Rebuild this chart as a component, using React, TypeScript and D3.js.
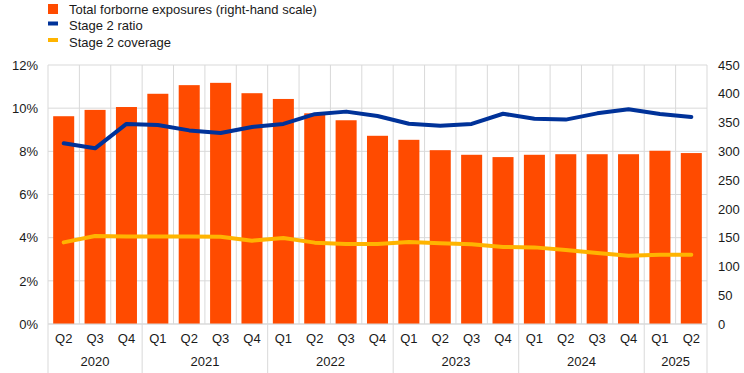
import React, { useEffect, useRef } from 'react';
import * as d3 from 'd3';

const quarters = ['Q2', 'Q3', 'Q4', 'Q1', 'Q2', 'Q3', 'Q4', 'Q1', 'Q2', 'Q3', 'Q4', 'Q1', 'Q2', 'Q3', 'Q4', 'Q1', 'Q2', 'Q3', 'Q4', 'Q1', 'Q2'];
const years = ['2020', '2020', '2020', '2021', '2021', '2021', '2021', '2022', '2022', '2022', '2022', '2023', '2023', '2023', '2023', '2024', '2024', '2024', '2024', '2025', '2025'];

// total forborne exposures (EUR bn, right-hand scale)
const forborne = [361, 372, 377, 400, 415, 419, 401, 391, 366, 354, 327, 320, 302, 294, 290, 294, 295, 295, 295, 301, 297];
// stage 2 ratio (%)
const stage2Ratio = [8.37, 8.14, 9.27, 9.22, 8.97, 8.85, 9.13, 9.27, 9.72, 9.84, 9.64, 9.28, 9.19, 9.27, 9.74, 9.51, 9.47, 9.76, 9.95, 9.73, 9.59];
// stage 2 coverage (%)
const stage2Coverage = [3.78, 4.08, 4.05, 4.05, 4.05, 4.04, 3.86, 3.98, 3.77, 3.71, 3.71, 3.8, 3.74, 3.69, 3.57, 3.55, 3.43, 3.29, 3.16, 3.21, 3.21];

const leftTicks = [0, 2, 4, 6, 8, 10, 12];
const rightTicks = [0, 50, 100, 150, 200, 250, 300, 350, 400, 450];

const ORANGE = '#ff4b00';
const BLUE = '#003299';
const YELLOW = '#ffb400';
const GRID = '#d9d9d9';
const FONT = 'Arial, "Liberation Sans", sans-serif';

const App = () => {
    const svgRef = useRef<SVGSVGElement>(null);

    useEffect(() => {
        document.body.style.margin = '0';
        drawChart();
    }, []);

    const drawChart = () => {
        const W = 744;
        const H = 373;
        const margin = { top: 65, right: 37, bottom: 49, left: 48 };
        const width = W - margin.left - margin.right;
        const height = H - margin.top - margin.bottom;

        const root = d3.select(svgRef.current);
        root.selectAll('*').remove();
        root.attr('width', W).attr('height', H);

        const svg = root.append('g')
            .attr('transform', `translate(${margin.left},${margin.top})`);

        const idx = quarters.map((_, i) => i);
        const x = d3.scaleBand<number>().domain(idx).range([0, width]).paddingInner(0.33).paddingOuter(0.165);
        const step = x.step();
        const yL = d3.scaleLinear().domain([0, 12]).range([height, 0]);
        const yR = d3.scaleLinear().domain([0, 450]).range([height, 0]);

        // horizontal gridlines
        svg.append('g').selectAll('line')
            .data(leftTicks)
            .enter().append('line')
            .attr('x1', 0).attr('x2', width)
            .attr('y1', d => yL(d)).attr('y2', d => yL(d))
            .attr('stroke', GRID).attr('stroke-width', 1);

        // vertical gridlines between categories
        svg.append('g').selectAll('line')
            .data(d3.range(quarters.length + 1))
            .enter().append('line')
            .attr('x1', d => d * step).attr('x2', d => d * step)
            .attr('y1', 0).attr('y2', height)
            .attr('stroke', GRID).attr('stroke-width', 1);

        // bars
        svg.append('g').selectAll('rect')
            .data(forborne)
            .enter().append('rect')
            .attr('x', (_, i) => x(i)!)
            .attr('width', x.bandwidth())
            .attr('y', d => yR(d))
            .attr('height', d => height - yR(d))
            .style('fill', ORANGE);

        // lines
        const line = d3.line<number>()
            .x((_, i) => x(i)! + x.bandwidth() / 2)
            .y(d => yL(d));

        svg.append('path')
            .datum(stage2Coverage)
            .attr('d', line)
            .attr('fill', 'none')
            .attr('stroke', YELLOW)
            .attr('stroke-width', 4)
            .attr('stroke-linejoin', 'round')
            .attr('stroke-linecap', 'round');

        svg.append('path')
            .datum(stage2Ratio)
            .attr('d', line)
            .attr('fill', 'none')
            .attr('stroke', BLUE)
            .attr('stroke-width', 4)
            .attr('stroke-linejoin', 'round')
            .attr('stroke-linecap', 'round');

        // bottom axis line
        svg.append('line')
            .attr('x1', 0).attr('x2', width)
            .attr('y1', height).attr('y2', height)
            .attr('stroke', GRID);

        // left axis
        const leftAxis = d3.axisLeft(yL).tickValues(leftTicks).tickFormat(d => `${d}%`).tickSize(0).tickPadding(10);
        const gl = svg.append('g').call(leftAxis);
        gl.select('.domain').remove();
        gl.selectAll('text').attr('font-size', 13).attr('font-family', FONT).attr('fill', '#1a1a1a');

        // right axis
        const rightAxis = d3.axisRight(yR).tickValues(rightTicks).tickFormat(d3.format('d')).tickSize(0).tickPadding(11);
        const gr = svg.append('g').attr('transform', `translate(${width},0)`).call(rightAxis);
        gr.select('.domain').remove();
        gr.selectAll('text').attr('font-size', 13).attr('font-family', FONT).attr('fill', '#1a1a1a');

        // quarter labels
        svg.append('g').selectAll('text')
            .data(quarters)
            .enter().append('text')
            .attr('x', (_, i) => x(i)! + x.bandwidth() / 2)
            .attr('y', height + 19)
            .attr('text-anchor', 'middle')
            .attr('font-size', 13)
            .attr('font-family', FONT)
            .attr('fill', '#1a1a1a')
            .text(d => d);

        // year groups
        const groups = d3.groups(idx, i => years[i]);
        svg.append('g').selectAll('text')
            .data(groups)
            .enter().append('text')
            .attr('x', ([, ids]) => ((ids[0] + ids[ids.length - 1] + 1) / 2) * step)
            .attr('y', height + 42)
            .attr('text-anchor', 'middle')
            .attr('font-size', 13)
            .attr('font-family', FONT)
            .attr('fill', '#1a1a1a')
            .text(([y]) => y);

        const bounds = [0, ...groups.map(([, ids]) => ids[ids.length - 1] + 1)];
        svg.append('g').selectAll('line')
            .data(bounds)
            .enter().append('line')
            .attr('x1', d => d * step).attr('x2', d => d * step)
            .attr('y1', height).attr('y2', H - margin.top)
            .attr('stroke', GRID);

        // legend
        const legend = root.append('g').attr('transform', 'translate(48,0)');
        const items = [
            { label: 'Total forborne exposures (right-hand scale)', color: ORANGE, type: 'box' },
            { label: 'Stage 2 ratio', color: BLUE, type: 'line' },
            { label: 'Stage 2 coverage', color: YELLOW, type: 'line' },
        ];
        items.forEach((it, i) => {
            const cy = 9 + i * 16.5;
            if (it.type === 'box') {
                legend.append('rect').attr('x', 0).attr('y', cy - 5).attr('width', 10).attr('height', 10).attr('fill', it.color);
            } else {
                legend.append('rect').attr('x', 0).attr('y', cy - 4).attr('width', 10).attr('height', 4).attr('fill', it.color);
            }
            legend.append('text')
                .attr('x', 21).attr('y', cy + 4.5)
                .attr('font-size', 13)
                .attr('font-family', FONT)
                .attr('fill', '#1a1a1a')
                .text(it.label);
        });
    };

    return <svg ref={svgRef}></svg>;
};

export default App;
